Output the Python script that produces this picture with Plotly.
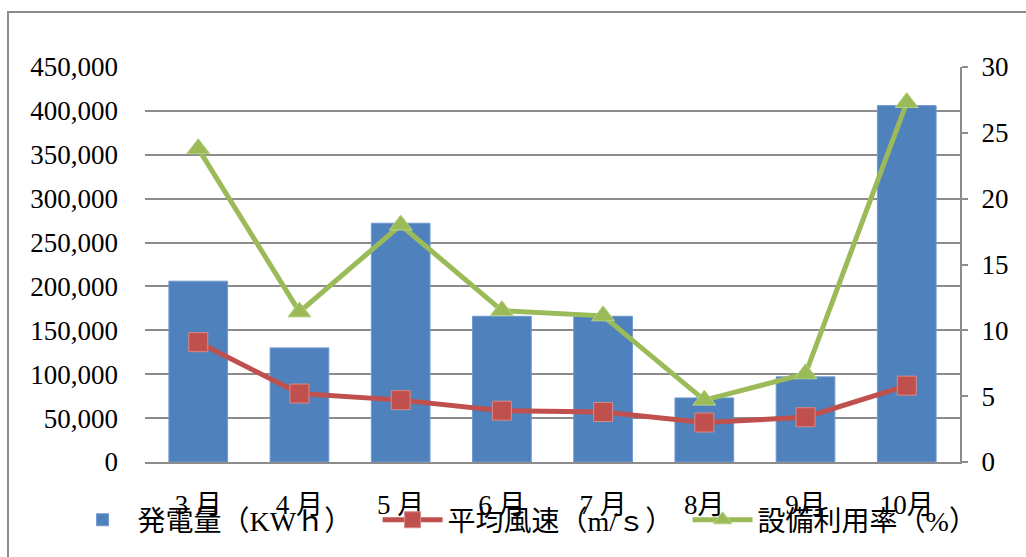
import plotly.graph_objects as go

months = ["3 月", "4 月", "5 月", "6 月", "7 月", "8月", "9月", "10月"]
generation_kwh = [206000, 130000, 272000, 166000, 166000, 73000, 97000, 406000]
wind_speed = [9.1, 5.2, 4.7, 3.9, 3.8, 3.0, 3.4, 5.8]
utilization = [23.8, 11.4, 18.0, 11.5, 11.1, 4.7, 6.7, 27.3]

FONT = "'Liberation Serif', 'DejaVu Serif', 'Noto Sans CJK JP', serif"
GRID = "#8c8c8c"

fig = go.Figure()
fig.add_trace(go.Bar(
    x=months, y=generation_kwh, name="発電量（KWｈ）",
    marker=dict(color="#4F81BD", line=dict(color="#6f9ad0", width=1)),
))
fig.add_trace(go.Scatter(
    x=months, y=wind_speed, name="平均風速（m/ｓ）", yaxis="y2",
    mode="lines+markers",
    line=dict(color="#C0504D", width=5),
    marker=dict(symbol="square", size=19, color="#C0504D",
                line=dict(color="#d98a88", width=1)),
))
fig.add_trace(go.Scatter(
    x=months, y=utilization, name="設備利用率（%）", yaxis="y2",
    mode="lines+markers",
    line=dict(color="#9BBB59", width=5),
    marker=dict(symbol="triangle-up", size=20, color="#9BBB59",
                line=dict(color="#b5d184", width=1)),
))

fig.update_layout(
    width=1026, height=557,
    margin=dict(l=145, r=66, t=67, b=95),
    paper_bgcolor="white", plot_bgcolor="white",
    font=dict(family=FONT, size=26, color="black"),
    bargap=0.42,
    showlegend=True,
    legend=dict(orientation="h", x=-0.095, y=-0.147, xanchor="left", yanchor="middle",
                font=dict(family=FONT, size=28), bgcolor="rgba(0,0,0,0)",
                tracegroupgap=0, itemwidth=60,
                entrywidth=235, entrywidthmode="pixels"),
    xaxis=dict(
        showgrid=False, showline=True, linecolor=GRID, linewidth=2,
        ticks="", ticklabelstandoff=18, tickfont=dict(family=FONT, size=27),
    ),
    yaxis=dict(
        range=[0, 450000], dtick=50000, tickformat=",d",
        showgrid=True, gridcolor=GRID, gridwidth=1.5,
        showline=False, zeroline=False, ticks="",
        ticklabelstandoff=26, tickfont=dict(family=FONT, size=27),
    ),
    yaxis2=dict(
        range=[0, 30], dtick=5, overlaying="y", side="right",
        showgrid=False, zeroline=False, showline=True, linecolor=GRID, linewidth=2,
        ticks="outside", ticklen=6, tickcolor=GRID, tickwidth=2,
        ticklabelstandoff=8, tickfont=dict(family=FONT, size=27),
    ),
    shapes=[dict(
        type="rect", xref="paper", yref="paper",
        x0=(8 - 145) / 815, x1=(1040 - 145) / 815,
        y0=(462 - 580) / 395, y1=(462 - 12) / 395,
        line=dict(color="#8c8c8c", width=2), fillcolor="rgba(0,0,0,0)", layer="below",
    )],
)

fig.write_html("out.html")
